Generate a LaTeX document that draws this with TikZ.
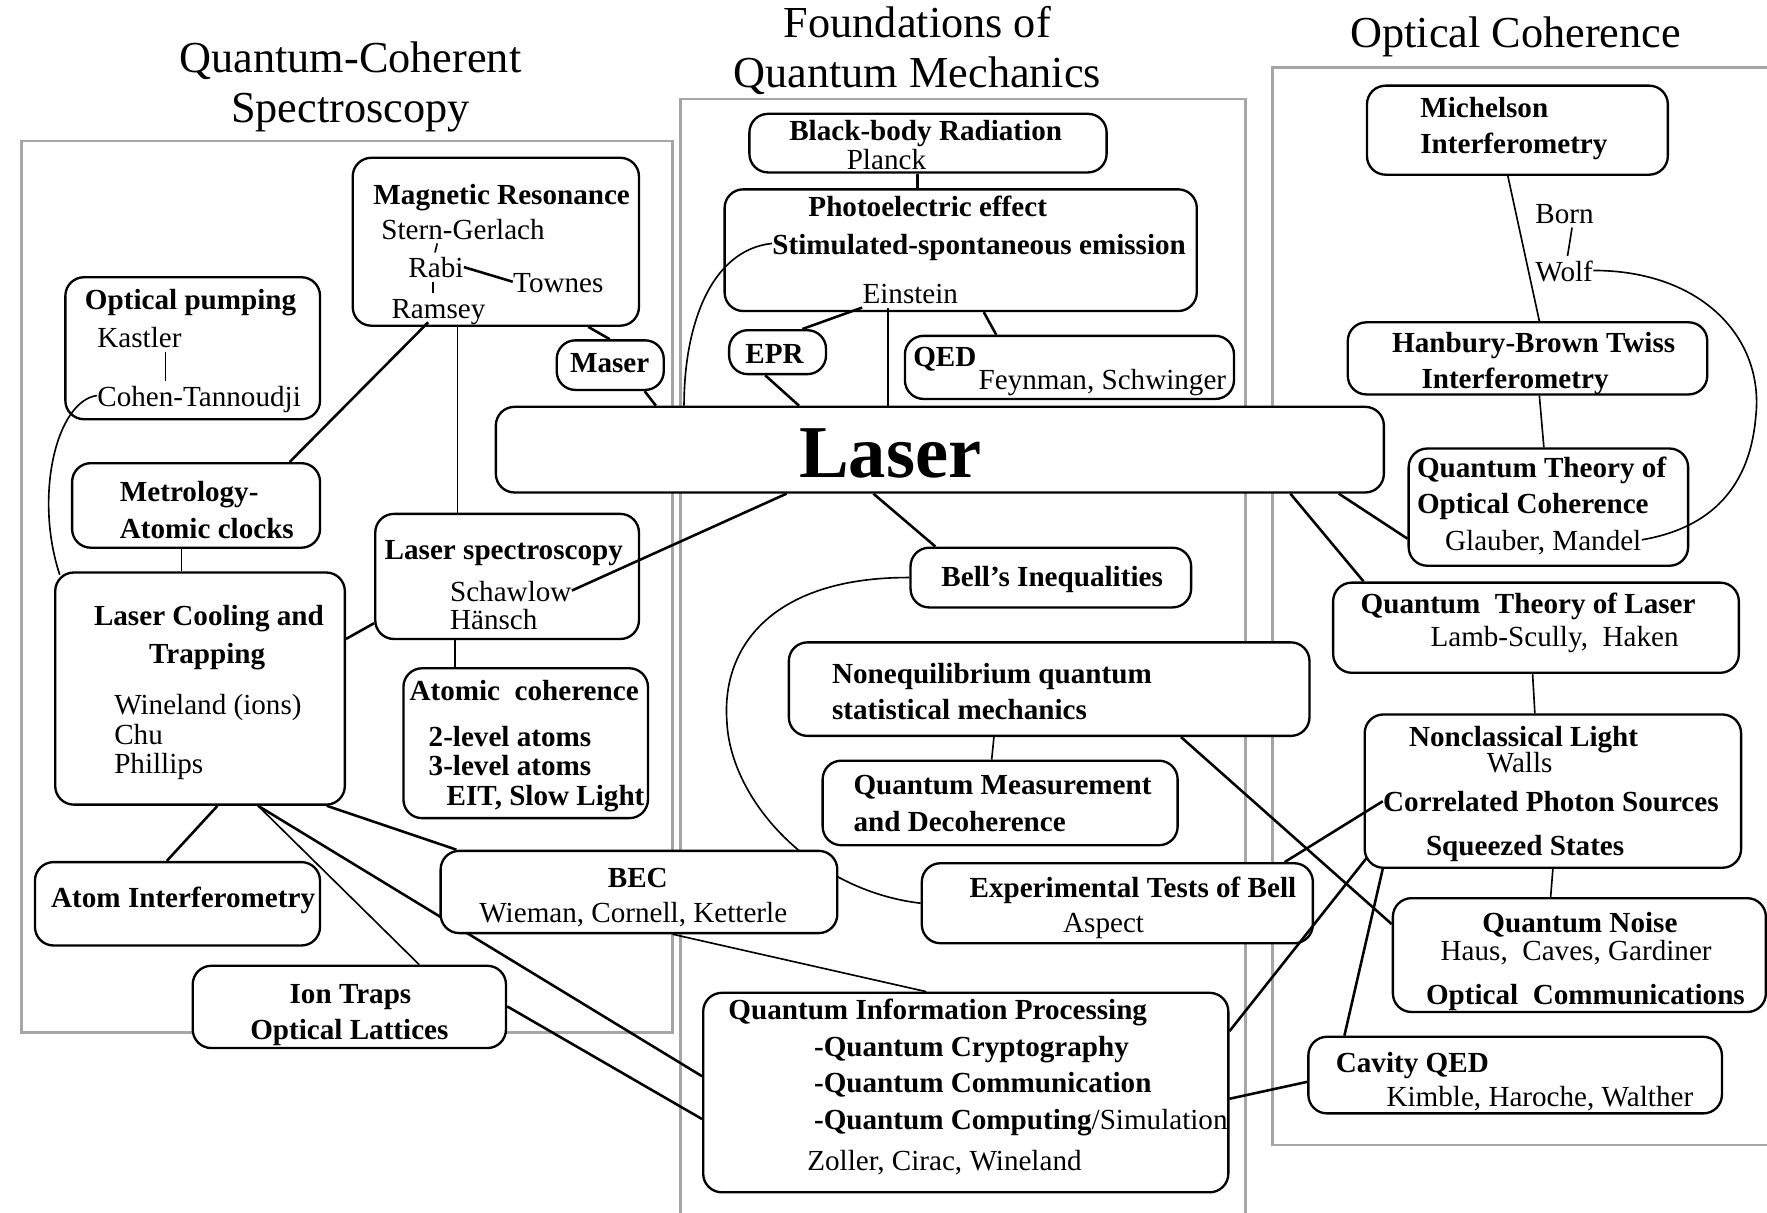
\documentclass[tikz,border=0pt]{standalone}
\usepackage{fontspec}
\setmainfont{Liberation Serif}
\usepackage{tikz}
\usetikzlibrary{fit}

\pgfdeclarelayer{back}
\pgfsetlayers{back,main}

\tikzset{
  box/.style={draw, rounded corners=8pt, line width=1pt, fill=white, inner sep=0pt},
  txt/.style={inner sep=0pt, anchor=west, text height=.85em, text depth=.12em},
  hd/.style={txt, font=\bfseries},
  link/.style={line width=1.1pt},
  thinlink/.style={line width=.7pt},
  group/.style={draw=black!35, line width=1.1pt},
  heading/.style={font=\fontsize{19}{21.5}\selectfont, align=center}
}

\begin{document}
\fontsize{12.5}{15}\selectfont
\begin{tikzpicture}[x=0.017cm, y=-0.017cm]
\useasboundingbox (0,0) rectangle (1568,1076);

% headings of the three fields
\node[heading] (tLeft) at (311,77) {Quantum-Coherent\\Spectroscopy};
\node[heading] (tMid) at (814,45) {Foundations of\\Quantum Mechanics};
\node[heading] (tRight) at (1345,33) {Optical Coherence};

% boxes
\node[box, fit={(313,140) (567,289)}] (mag) {};
\node[box, fit={(58,246) (284,372)}] (op) {};
\node[box, fit={(494,302) (589,346)}] (maser) {};
\node[box, fit={(64,411) (284,486)}] (metro) {};
\node[box, fit={(49,508) (306,714)}] (lc) {};
\node[box, fit={(333,456) (567,567)}] (ls) {};
\node[box, fit={(358,593) (575,726)}] (ac) {};
\node[box, fit={(31,765) (284,839)}] (ai) {};
\node[box, fit={(171,857) (449,930)}] (ion) {};
\node[box, fit={(391,755) (743,828)}] (bec) {};
\node[box, fit={(440,361) (1228,437)}] (laser) {};
\node[box, fit={(665,101) (982,153)}] (bb) {};
\node[box, fit={(643,168) (1062,276)}] (pe) {};
\node[box, fit={(647,293) (733,332)}] (epr) {};
\node[box, fit={(803,298) (1095,354)}] (qed) {};
\node[box, fit={(808,486) (1057,539)}] (bell) {};
\node[box, fit={(700,570) (1162,653)}] (noneq) {};
\node[box, fit={(730,675) (1045,750)}] (qm) {};
\node[box, fit={(818,766) (1165,837)}] (exp) {};
\node[box, fit={(624,881) (1090,1058)}] (qip) {};
\node[box, fit={(1213,76) (1480,155)}] (mich) {};
\node[box, fit={(1196,286) (1515,350)}] (hbt) {};
\node[box, fit={(1250,398) (1498,502)}] (qtoc) {};
\node[box, fit={(1183,517) (1543,597)}] (qtl) {};
\node[box, fit={(1211,634) (1545,770)}] (ncl) {};
\node[box, fit={(1236,797) (1567,898)}] (qn) {};
\node[box, fit={(1161,920) (1528,988)}] (cav) {};

% left field
\node[hd] (magT) at (331,172) {Magnetic Resonance};
\node[txt] (sg) at (338,203) {Stern-Gerlach};
\node[txt] (rabi) at (362,237) {Rabi};
\node[txt] (townes) at (455,250) {Townes};
\node[txt] (ramsey) at (347,273) {Ramsey};
\node[hd] (opT) at (75,265) {Optical pumping};
\node[txt] (kastler) at (86,299) {Kastler};
\node[txt] (cohen) at (86,351) {Cohen-Tannoudji};
\node[hd, anchor=center] (maserT) at (541,321) {Maser};
\node[hd] (metT) at (106,436) {Metrology-};
\node[hd] (metT2) at (106,468) {Atomic clocks};
\node[hd] (lcT) at (83,546) {Laser Cooling and};
\node[hd] (lcT2) at (132,579) {Trapping};
\node[txt] (wineland) at (101,625) {Wineland (ions)};
\node[txt] (chu) at (101,651) {Chu};
\node[txt] (phillips) at (101,677) {Phillips};
\node[hd] (lsT) at (341,487) {Laser spectroscopy};
\node[txt] (schawlow) at (399,524) {Schawlow};
\node[txt] (haensch) at (399,549) {Hänsch};
\node[hd] (acT) at (363,612) {Atomic\ \ coherence};
\node[hd] (acT2) at (380,653) {2-level atoms};
\node[hd] (acT3) at (380,679) {3-level atoms};
\node[hd] (acT4) at (396,705) {EIT, Slow Light};
\node[hd] (aiT) at (45,796) {Atom Interferometry};
\node[hd, anchor=center] (ionT) at (311,881) {Ion Traps};
\node[hd, anchor=center] (ionT2) at (310,913) {Optical Lattices};
\node[hd, anchor=center] (becT) at (566,778) {BEC};
\node[txt] (becN) at (425,809) {Wieman, Cornell, Ketterle};

% middle field
\node[font=\fontsize{32}{36}\selectfont\bfseries, inner sep=0pt] (laserT) at (790,402) {Laser};
\node[hd] (bbT) at (700,115) {Black-body Radiation};
\node[txt] (planck) at (751,141) {Planck};
\node[hd] (peT) at (717,183) {Photoelectric effect};
\node[hd] (stim) at (685,216) {Stimulated-spontaneous emission};
\node[txt] (einstein) at (765,260) {Einstein};
\node[hd] (eprT) at (661,313) {EPR};
\node[hd] (qedT) at (810,316) {QED};
\node[txt] (feynman) at (868,336) {Feynman, Schwinger};
\node[hd] (bellT) at (835,511) {Bell's Inequalities};
\node[hd] (neT) at (738,597) {Nonequilibrium quantum};
\node[hd] (neT2) at (738,629) {statistical mechanics};
\node[hd] (qmT) at (757,696) {Quantum Measurement};
\node[hd] (qmT2) at (757,728) {and Decoherence};
\node[hd] (expT) at (860,787) {Experimental Tests of Bell};
\node[txt] (aspect) at (943,818) {Aspect};
\node[hd] (qipT) at (646,895) {Quantum Information Processing};
\node[hd] (qipC) at (722,928) {-Quantum Cryptography};
\node[hd] (qipM) at (722,960) {-Quantum Communication};
\node[txt] (qipS) at (722,993) {\textbf{-Quantum Computing}/Simulation};
\node[txt] (zoller) at (716,1029) {Zoller, Cirac, Wineland};

% right field
\node[hd] (michT) at (1260,95) {Michelson};
\node[hd] (michT2) at (1260,127) {Interferometry};
\node[txt] (born) at (1362,189) {Born};
\node[txt] (wolf) at (1362,240) {Wolf};
\node[hd] (hbtT) at (1235,303) {Hanbury-Brown Twiss};
\node[hd] (hbtT2) at (1261,335) {Interferometry};
\node[hd] (qtoT) at (1257,414) {Quantum Theory of};
\node[hd] (qtoT2) at (1257,446) {Optical Coherence};
\node[txt] (glauber) at (1282,479) {Glauber, Mandel};
\node[hd] (qtlT) at (1207,535) {Quantum\ \ Theory of Laser};
\node[txt] (lamb) at (1269,564) {Lamb-Scully,\ \ Haken};
\node[hd] (nclT) at (1250,653) {Nonclassical Light};
\node[txt] (walls) at (1319,676) {Walls};
\node[hd] (corr) at (1227,711) {Correlated Photon Sources};
\node[hd] (squeezed) at (1265,750) {Squeezed States};
\node[hd, anchor=center] (qnT) at (1402,818) {Quantum Noise};
\node[txt] (haus) at (1278,843) {Haus,\ \ Caves, Gardiner};
\node[hd] (optcom) at (1265,882) {Optical\ \ Communications};
\node[hd] (cavT) at (1185,942) {Cavity QED};
\node[txt] (kimble) at (1230,972) {Kimble, Haroche, Walther};

% frames and the links that run behind the BEC box
\begin{pgfonlayer}{back}
  \draw[group] (19,125) rectangle (597,916);
  \draw[group] (604,1090) -- (604,88) -- (1105,88) -- (1105,1090);
  \draw[group] (1580,60) -- (1129,60) -- (1129,1016) -- (1580,1016);
  \draw[link] (lc.south -| 229,0) -- (qip.west |- 0,955);
  \draw[thinlink] (bell.west) .. controls (690,512) and (640,570) .. (645,640)
    .. controls (648,710) and (720,790) .. (exp.west);
\end{pgfonlayer}

% links
\draw[link] (bb.south -| 814,0) -- (pe.north -| 814,0);
\draw[link] (einstein.south west) -- (epr.north -| 712,0);
\draw[link] (einstein.south -| 788,0) -- (laser.north -| 788,0);
\draw[link] (pe.south -| 873,0) -- (qed.north -| 884,0);
\draw[link] (epr.south -| 679,0) -- (laser.north -| 709,0);
\draw[thinlink] (stim.west) .. controls (630,222) and (607,290) .. (laser.north -| 607,0);
\draw[link] (maser.south -| 572,0) -- (laser.north -| 582,0);
\draw[link] (mag.south -| 522,0) -- (maser.north -| 541,0);
\draw[link] (ramsey.south -| 380,0) -- (metro.north -| 257,0);
\draw[thinlink] (mag.south -| 406,0) -- (ls.north -| 406,0);
\draw[thinlink] (ls.south -| 404,0) -- (ac.north -| 404,0);
\draw[link] (ls.west |- 0,553) -- (lc.east |- 0,567);
\draw[link] (schawlow.east) -- (laser.south -| 698,0);
\draw[thinlink] (metro.south -| 161,0) -- (lc.north -| 161,0);
\draw[thinlink] (cohen.west) .. controls (50,356) and (30,440) .. ([shift={(5,3)}]lc.north west);
\draw[link] (lc.south -| 193,0) -- (ai.north -| 148,0);
\draw[thinlink] (lc.south -| 229,0) -- (ion.north -| 372,0);
\draw[link] (lc.south -| 290,0) -- (bec.north -| 405,0);
\draw[link] (ion.east |- 0,893) -- (qip.west |- 0,993);
\draw[thinlink] (bec.south -| 597,0) -- (qip.north -| 822,0);
\draw[link] (laser.south -| 775,0) -- (bell.north -| 830,0);
\draw[thinlink] (noneq.south -| 882,0) -- (qm.north -| 880,0);
\draw[link] (noneq.south -| 1048,0) -- (qn.west |- 0,820);
\draw[link] (exp.north -| 1140,0) -- (corr.west);
\draw[link] (qip.east |- 0,915) -- ([shift={(3,-10)}]ncl.south west);
\draw[link] (qip.east |- 0,975) -- (cav.west |- 0,960);
\draw[link] (cav.north -| 1193,0) -- (ncl.south -| 1227,0);
\draw[link] (laser.south -| 1188,0) -- (qtoc.west |- 0,478);
\draw[link] (laser.south -| 1145,0) -- (qtl.north -| 1210,0);
\draw[thinlink] (mich.south -| 1338,0) -- (hbt.north -| 1366,0);
\draw[thinlink] (hbt.south -| 1366,0) -- (qtoc.north -| 1370,0);
\draw[thinlink] (wolf.east) .. controls (1510,240) and (1566,300) .. (1558,370)
  .. controls (1552,440) and (1510,470) .. (glauber.east);
\draw[thinlink] (born.south -| 1395,0) -- (wolf.north -| 1391,0);
\draw[thinlink] (sg.south -| 388,0) -- (rabi.north -| 386,0);
\draw[link] (rabi.east) -- (townes.west);
\draw[thinlink] (rabi.south -| 384,0) -- (ramsey.north -| 384,0);
\draw[thinlink] (kastler.south -| 147,0) -- (cohen.north -| 147,0);
\draw[thinlink] (qtl.south -| 1360,0) -- (ncl.north -| 1362,0);
\draw[thinlink] (ncl.south -| 1378,0) -- (qn.north -| 1376,0);
\end{tikzpicture}
\end{document}
